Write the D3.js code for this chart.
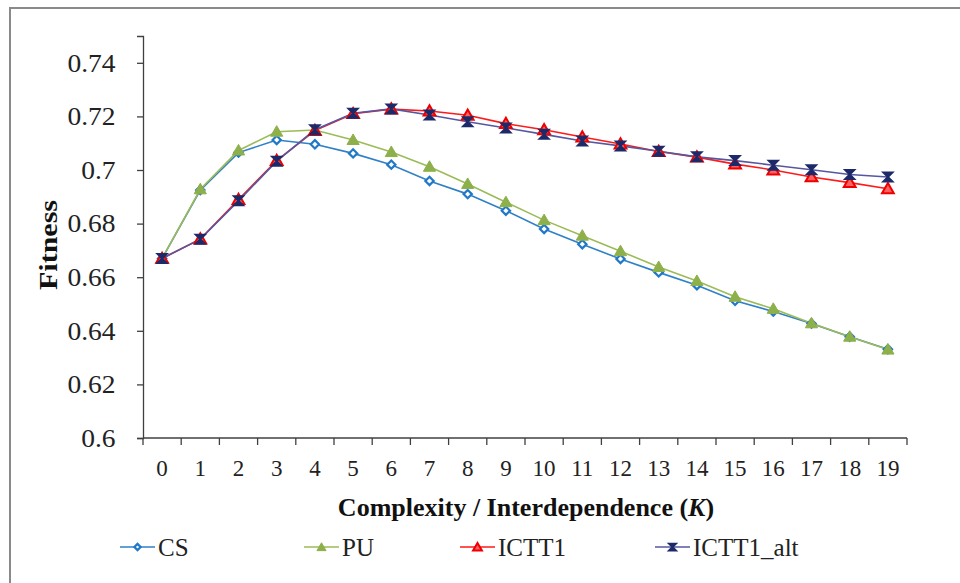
<!DOCTYPE html>
<html><head><meta charset="utf-8">
<script src="https://cdn.jsdelivr.net/npm/d3@7"></script>
<style>body{margin:0;background:#fff}svg{display:block}</style>
</head><body>
<svg id="c" width="960" height="583"></svg>
<script>
const categories = d3.range(0, 20).map(String);
const seriesNames = ["CS", "PU", "ICTT1", "ICTT1_alt"];
const csValues = [0.667,0.6925,0.7065,0.7112,0.7096,0.7062,0.7020,0.6959,0.6910,0.6848,0.6780,0.6723,0.6668,0.6618,0.6570,0.6512,0.6472,0.6427,0.6378,0.6331];
const puValues = [0.667,0.6928,0.7073,0.7143,0.7149,0.7112,0.7067,0.7012,0.6948,0.6880,0.6813,0.6755,0.6697,0.6638,0.6586,0.6527,0.6482,0.6428,0.6378,0.6330];
const ictt1Values = [0.667,0.6742,0.6890,0.7035,0.7147,0.7210,0.7227,0.7220,0.7204,0.7173,0.7150,0.7123,0.7097,0.7069,0.7048,0.7022,0.7000,0.6974,0.6953,0.6930];
const ictt1AltValues = [0.667,0.6742,0.6885,0.7033,0.7150,0.7212,0.7228,0.7205,0.7180,0.7157,0.7133,0.7108,0.7090,0.7070,0.7049,0.7035,0.7018,0.7001,0.6983,0.6974];
const yTicks = [0.6,0.62,0.64,0.66,0.68,0.7,0.72,0.74];
const yTickLabels = ["0.6","0.62","0.64","0.66","0.68","0.7","0.72","0.74"];

const svg = d3.select("#c");
const serif = "'Liberation Serif','Times New Roman',serif";
const axisColor = "#404040";

// outer frame
svg.append("path").attr("d","M10,583 L10,8 L960,8").attr("fill","none").attr("stroke","#8a8a8a").attr("stroke-width",2);

const x = d3.scaleBand().domain(categories).range([143, 907]);
const y = d3.scaleLinear().domain([0.6, 0.75]).range([438, 36]);

// y axis
const yAxis = d3.axisLeft(y).tickValues(yTicks).tickFormat((d,i)=>yTickLabels[i]).tickSizeOuter(0).tickSize(6).tickPadding(19);
const gy = svg.append("g").attr("transform","translate(143,0)").call(yAxis);
gy.select(".domain").attr("stroke",axisColor).attr("stroke-width",1.3);
gy.selectAll(".tick line").attr("stroke",axisColor).attr("stroke-width",1.3);
gy.selectAll(".tick text").attr("font-family",serif).attr("font-size",25).attr("fill","#222").attr("dy","0.33em")
  .attr("transform","scale(1.1,1)");

// x axis
const gx = svg.append("g").attr("transform","translate(0,438)");
gx.append("line").attr("x1",143).attr("x2",907).attr("stroke",axisColor).attr("stroke-width",1.3);
const bounds = categories.map(c=>x(c)).concat([x(categories[categories.length-1])+x.bandwidth()]);
gx.selectAll("line.tk").data(bounds).join("line").attr("class","tk")
  .attr("x1",d=>d).attr("x2",d=>d).attr("y1",0).attr("y2",7).attr("stroke",axisColor).attr("stroke-width",1.3);
gx.selectAll("text").data(categories).join("text")
  .attr("x",d=>x(d)+x.bandwidth()/2).attr("y",38).attr("text-anchor","middle")
  .attr("font-family",serif).attr("font-size",23).attr("fill","#222").text(d=>d);

// axis titles
svg.append("text").attr("transform","translate(57,245) rotate(-90)").attr("text-anchor","middle")
  .attr("font-family",serif).attr("font-weight","bold").attr("font-size",25).attr("fill","#111")
  .attr("textLength",90).attr("lengthAdjust","spacingAndGlyphs").text("Fitness");
const xt = svg.append("text").attr("x",526).attr("y",516).attr("text-anchor","middle")
  .attr("font-family",serif).attr("font-weight","bold").attr("font-size",26).attr("fill","#111");
xt.append("tspan").text("Complexity / Interdependence (");
xt.append("tspan").attr("font-style","italic").text("K");
xt.append("tspan").text(")");

const series = [
  {name:seriesNames[0], values:csValues, line:"#2f80c8", marker:"diamond"},
  {name:seriesNames[1], values:puValues, line:"#9bbb59", marker:"triGreen"},
  {name:seriesNames[2], values:ictt1Values, line:"#ff1a1a", marker:"triRed"},
  {name:seriesNames[3], values:ictt1AltValues, line:"#5558a0", marker:"star"}
];

function drawMarker(g, type, cx, cy, s) {
  s = s || 1;
  if (type==="diamond") {
    g.append("path").attr("d",d3.symbol(d3.symbolDiamond2, 44*s*s)()).attr("transform",`translate(${cx},${cy})`)
      .attr("fill","#fff").attr("stroke","#1f78c8").attr("stroke-width",2.2);
  } else if (type==="triGreen") {
    g.append("path").attr("d",d3.symbol(d3.symbolTriangle, 64*s*s)()).attr("transform",`translate(${cx},${cy+1})`)
      .attr("fill","#8db04a").attr("stroke","#8db04a").attr("stroke-width",1);
  } else if (type==="triRed") {
    g.append("path").attr("d",d3.symbol(d3.symbolTriangle, 60*s*s)()).attr("transform",`translate(${cx},${cy+1})`)
      .attr("fill","#ff6060").attr("stroke","#ee0000").attr("stroke-width",2);
  } else {
    const r = 4.5*s;
    g.append("path").attr("d",`M${-r},${-r}L${r},${-r}L${-r},${r}L${r},${r}Z`).attr("transform",`translate(${cx},${cy})`)
      .attr("fill","#1c2a6a").attr("stroke","#1c2a6a").attr("stroke-width",2);
  }
}

const line = d3.line().x((d,i)=>x(categories[i])+x.bandwidth()/2).y(d=>y(d));
const gs = svg.append("g");
series.forEach(s=>{
  gs.append("path").attr("d",line(s.values)).attr("fill","none").attr("stroke",s.line).attr("stroke-width",1.6);
});
series.forEach(s=>{
  const gm = gs.append("g");
  s.values.forEach((v,i)=>drawMarker(gm, s.marker, x(categories[i])+x.bandwidth()/2, y(v)));
});

// legend
const legendX = [120, 304, 460, 655];
const lg = svg.append("g");
series.forEach((s,i)=>{
  const lx = legendX[i], ly = 547;
  lg.append("line").attr("x1",lx).attr("x2",lx+35).attr("y1",ly).attr("y2",ly).attr("stroke",s.line).attr("stroke-width",1.6);
  drawMarker(lg, s.marker, lx+17.5, ly, 0.75);
  lg.append("text").attr("x",lx+38).attr("y",ly).attr("dy","0.35em").attr("font-family",serif).attr("font-size",25).attr("fill","#222").text(s.name);
});
</script>
</body></html>
